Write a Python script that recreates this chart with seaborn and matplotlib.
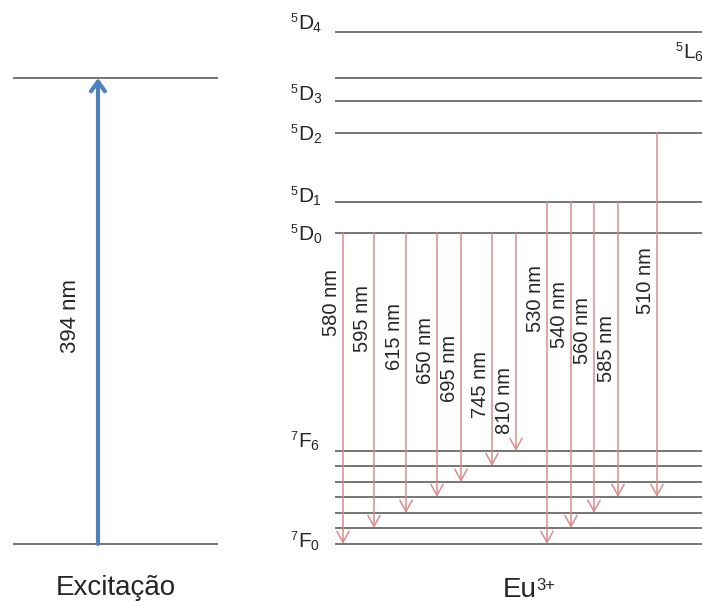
import matplotlib
matplotlib.use('Agg')
import matplotlib.pyplot as plt
import seaborn as sns
import pandas as pd

sns.set_theme(style='white')
plt.rcParams['font.family'] = ['Liberation Sans', 'DejaVu Sans']

# energy levels (picture rows, top = high energy)
upper_names = ['5D4', '5L6', '5D3', '5D2', '5D1', '5D0']
upper_pos = [32, 78, 101, 133, 202, 233]
lower_names = ['7F6', '7F5', '7F4', '7F3', '7F2', '7F1', '7F0']
lower_pos = [451, 466, 482, 497, 513, 528, 544]

# emission lines of Eu3+
wavelengths = [580, 595, 615, 650, 695, 745, 810, 530, 540, 560, 585, 510]
from_level = ['5D0'] * 7 + ['5D1'] * 4 + ['5D2']
to_level = ['7F0', '7F1', '7F2', '7F3', '7F4', '7F5', '7F6',
            '7F0', '7F1', '7F2', '7F3', '7F3']

# excitation
exc_wavelength = 394
exc_from = 544
exc_to = 78

# layout
arrow_x = [343, 374, 406, 437, 461, 492, 516, 547, 571, 594, 618, 657]
label_y = [302, 319, 336, 351, 368, 384, 401, 298, 314, 331, 348, 281]
label_base = {'5D4': 29, '5D3': 100, '5D2': 140, '5D1': 202, '5D0': 240,
              '7F6': 447, '7F0': 547}

level_y = dict(zip(upper_names + lower_names, upper_pos + lower_pos))
df = pd.DataFrame({'wl': wavelengths, 'start': from_level, 'end': to_level,
                   'x': arrow_x, 'ly': label_y})

fig = plt.figure(figsize=(7.02, 6.02), dpi=100)
ax = fig.add_axes([0, 0, 1, 1])
ax.set_xlim(0, 702)
ax.set_ylim(602, 0)
ax.axis('off')

line_col = '#6a6a6a'
red = '#dc8a8a'
blue = '#4f81bd'
txt = '#262626'

# levels of the ion
ax.hlines(upper_pos + lower_pos, 335, 702, color=line_col, lw=1.3)
# excitation panel
ax.hlines([exc_to, exc_from], 13, 218, color=line_col, lw=1.3)

# emission arrows
for _, r in df.iterrows():
    ax.annotate('', xy=(r.x, level_y[r.end]), xytext=(r.x, level_y[r.start]),
                arrowprops=dict(arrowstyle='->,head_length=0.4,head_width=0.22',
                                color=red, lw=1.1, shrinkA=0, shrinkB=0,
                                mutation_scale=20))
    ax.text(r.x - 11.5, r.ly, f'{r.wl} nm', rotation=90, ha='center',
            va='center', fontsize=14.5, color=txt)

# excitation arrow
ax.annotate('', xy=(98, exc_to), xytext=(98, exc_from),
            arrowprops=dict(arrowstyle='->,head_length=0.35,head_width=0.25',
                            color=blue, lw=3, shrinkA=0, shrinkB=0,
                            mutation_scale=20))
ax.text(71, 316, f'{exc_wavelength} nm', rotation=90, ha='center',
        va='center', fontsize=16, color=txt)

# term symbols: small superscript, big letter, subscript
em_w = {'D': 0.722, 'F': 0.611, 'L': 0.556}
def term(name, x, yb):
    big = 15
    w = em_w[name[1]] * big * 100 / 72
    ax.text(x, yb, name[1], ha='left', va='baseline', fontsize=big, color=txt)
    ax.text(x - 0.5, yb - 7, name[0], ha='right', va='baseline', fontsize=9,
            color=txt)
    ax.text(x + w, yb + 3, name[2:], ha='left', va='baseline',
            fontsize=10, color=txt)

for name, yb in label_base.items():
    term(name, 298, yb)
term('5L6', 683, 58)

ax.text(116, 588, 'Excitação', ha='center', va='center', fontsize=20,
        color=txt)
ax.text(503, 597, 'Eu', ha='left', va='baseline', fontsize=20, color=txt)
ax.text(536, 590, '3+', ha='left', va='baseline', fontsize=12, color=txt)

fig.savefig('out.png', dpi=100)
